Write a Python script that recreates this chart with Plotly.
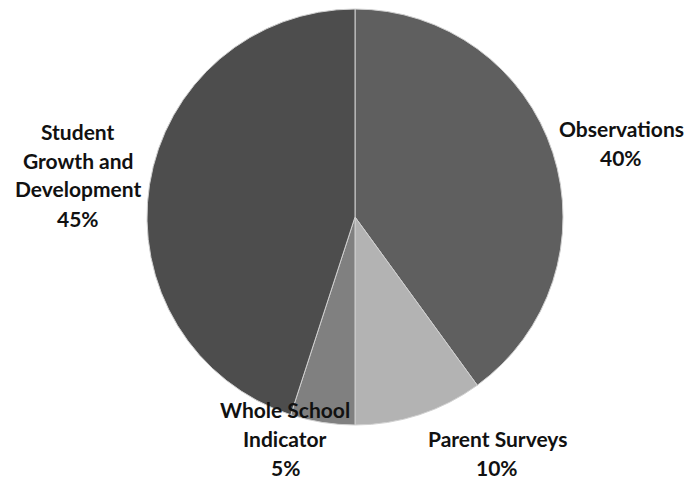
import plotly.graph_objects as go

labels = ["Observations", "Parent Surveys", "Whole School Indicator", "Student Growth and Development"]
values = [40, 10, 5, 45]
colors = ["#5f5f5f", "#b3b3b3", "#808080", "#4d4d4d"]

# label text lines and centre positions (pixels)
label_lines = [
    ["Observations", "40%"],
    ["Parent Surveys", "10%"],
    ["Whole School", "Indicator", "5%"],
    ["Student", "Growth and", "Development", "45%"],
]
label_pos = [(621, 128), (497, 438), (285, 409), (78, 131)]
line_gap = 29

W, H = 698, 483

fig = go.Figure(go.Pie(
    labels=labels, values=values, sort=False, direction="clockwise", rotation=0,
    marker=dict(colors=colors, line=dict(color="#d0d0d0", width=1)),
    textinfo="none", hoverinfo="label+percent",
    domain=dict(x=[147 / W, 563 / W], y=[1 - 425 / H, 1 - 9 / H]),
    showlegend=False,
))

anns = []
for lines, (cx, cy) in zip(label_lines, label_pos):
    for i, t in enumerate(lines):
        anns.append(dict(
            text=t, x=cx / W, y=1 - (cy + i * line_gap) / H, xref="paper", yref="paper",
            showarrow=False, xanchor="center", yanchor="middle",
            font=dict(family="Lato", size=21, color="#111111", weight="bold"),
        ))

fig.update_layout(
    width=W, height=H, margin=dict(l=0, r=0, t=0, b=0),
    paper_bgcolor="white", plot_bgcolor="white", annotations=anns,
)
fig.write_html("out.html")
